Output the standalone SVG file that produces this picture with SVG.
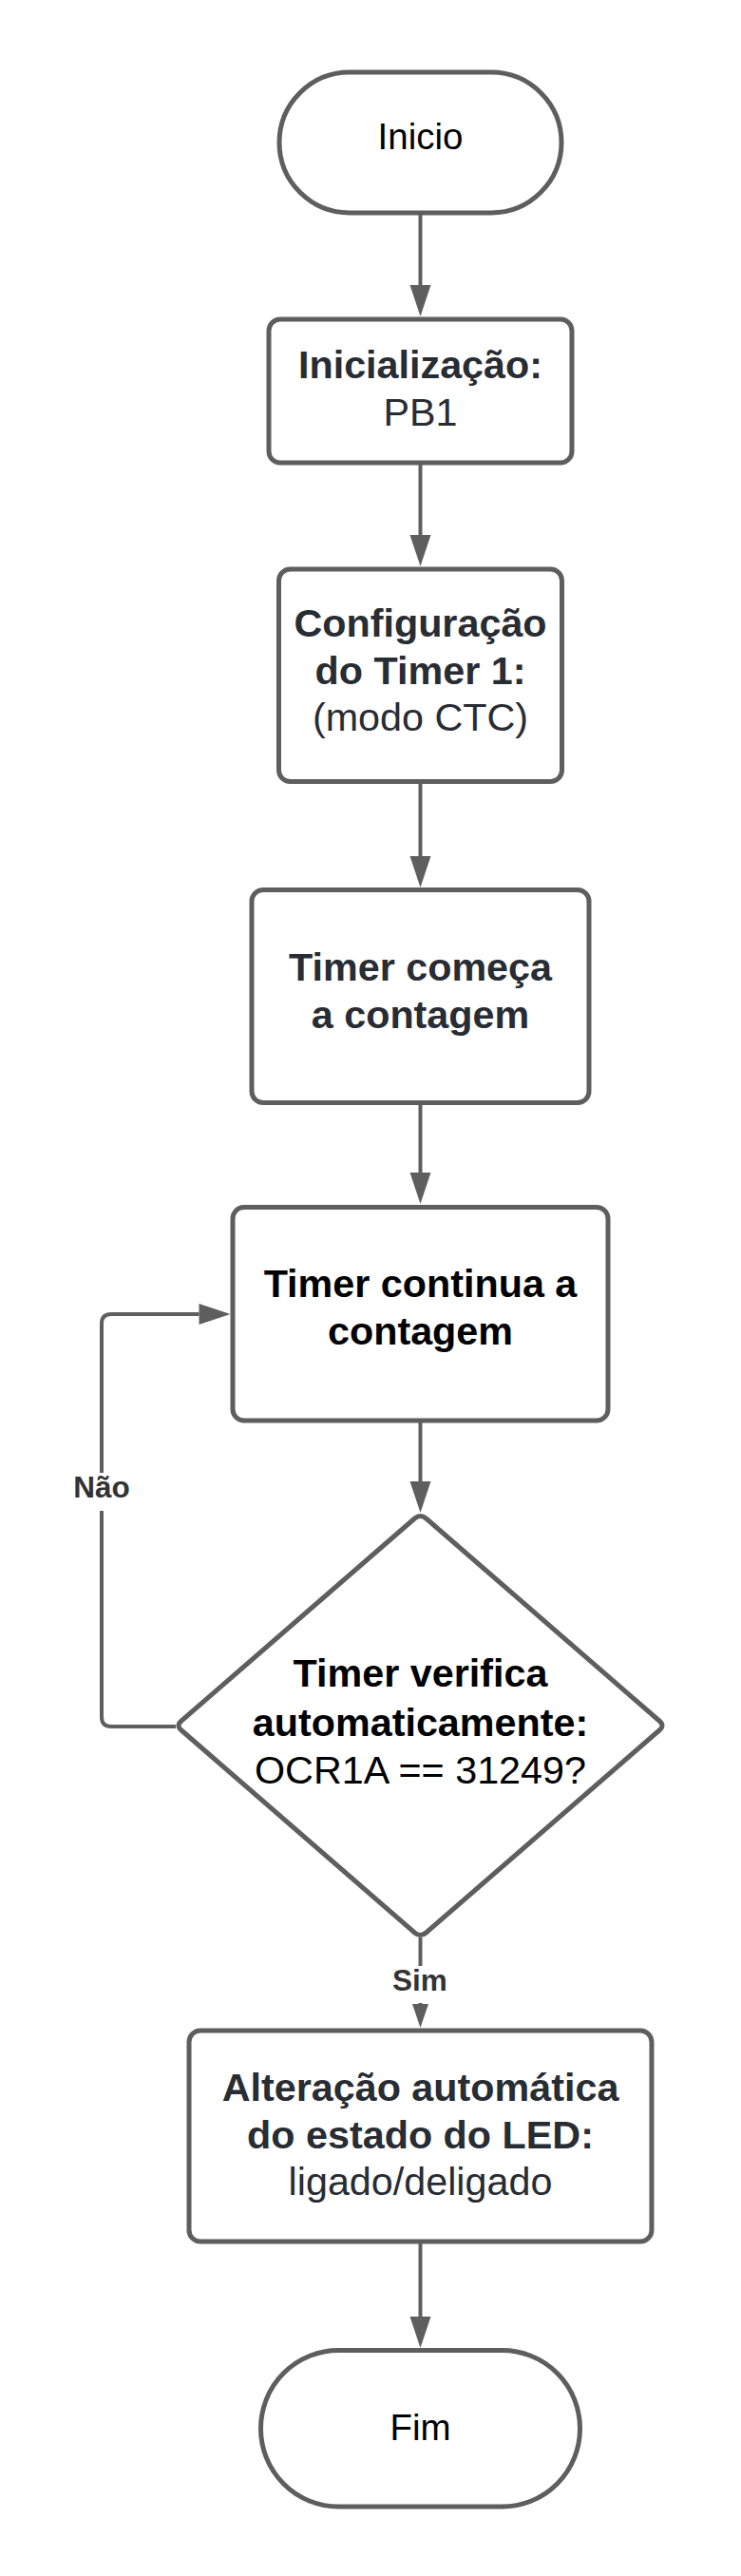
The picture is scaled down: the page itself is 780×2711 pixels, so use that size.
<svg xmlns="http://www.w3.org/2000/svg" width="780" height="2711" viewBox="0 0 780 2711">
<defs>
<style>
.shape{fill:#ffffff;stroke:#5e5e5e;stroke-width:5}
.conn{fill:none;stroke:#5e5e5e;stroke-width:4}
.t{font-family:"Liberation Sans",Arial,sans-serif;font-size:41.3px;text-anchor:middle}
.term{font-family:"Liberation Sans",Arial,sans-serif;font-size:38.5px;text-anchor:middle;fill:#000000}
.b{font-weight:bold}
.dk{fill:#282c33}
.bk{fill:#000000}
.lbl{font-family:"Liberation Sans",Arial,sans-serif;font-size:31.5px;font-weight:bold;text-anchor:middle;fill:#333333}
</style>
<marker id="arr" markerUnits="userSpaceOnUse" markerWidth="33" markerHeight="22" viewBox="0 0 33 22" refX="0" refY="11" orient="auto" overflow="visible">
<path d="M0,0 L33,11 L0,22 Z" fill="#5e5e5e"/>
</marker>
<marker id="arrS" markerUnits="userSpaceOnUse" markerWidth="25" markerHeight="17" viewBox="0 0 25 17" refX="0" refY="8.5" orient="auto" overflow="visible">
<path d="M0,0 L25,8.5 L0,17 Z" fill="#5e5e5e"/>
</marker>
</defs>
<rect width="780" height="2711" fill="#ffffff"/>

<g id="connectors">
<path class="conn" d="M442.5,224 V300" marker-end="url(#arr)"/>
<path class="conn" d="M442.5,487 V563" marker-end="url(#arr)"/>
<path class="conn" d="M442.5,822.5 V901" marker-end="url(#arr)"/>
<path class="conn" d="M442.5,1160.5 V1234" marker-end="url(#arr)"/>
<path class="conn" d="M442.5,1495 V1559" marker-end="url(#arr)"/>
<path class="conn" d="M185,1817 H117 Q107,1817 107,1807 V1393 Q107,1383 117,1383 H209.5" marker-end="url(#arr)"/>
<path class="conn" d="M442.5,2039 V2109" marker-end="url(#arrS)"/>
<path class="conn" d="M442.5,2359 V2438" marker-end="url(#arr)"/>
<g id="label-nao">
<rect x="72" y="1550" width="70" height="40" fill="#ffffff"/>
<text class="lbl" x="107" y="1576">Não</text>
</g>
<g id="label-sim">
<rect x="405" y="2069" width="75" height="39" fill="#ffffff"/>
<text class="lbl" x="442" y="2095">Sim</text>
</g>
</g>

<g id="inicio">
<rect class="shape" x="294" y="76" width="297" height="148" rx="74" ry="74"/>
<text class="term" x="442.5" y="157">Inicio</text>
</g>

<g id="inicializacao">
<rect class="shape" x="283" y="336" width="319" height="151" rx="12" ry="12"/>
<text class="t b dk" x="442.5" y="398">Inicialização:</text>
<text class="t dk" x="442.5" y="448">PB1</text>
</g>

<g id="configuracao">
<rect class="shape" x="293.5" y="599" width="298" height="223.5" rx="12" ry="12"/>
<text class="t b dk" x="442.5" y="669.6">Configuração</text>
<text class="t b dk" x="442.5" y="719.8">do Timer 1:</text>
<text class="t dk" x="442.5" y="769.2">(modo CTC)</text>
</g>

<g id="timer-comeca">
<rect class="shape" x="265" y="936.5" width="355" height="224" rx="12" ry="12"/>
<text class="t b dk" x="442.5" y="1031.6">Timer começa</text>
<text class="t b dk" x="442.5" y="1082">a contagem</text>
</g>

<g id="timer-continua">
<rect class="shape" x="245" y="1270.5" width="395" height="224.5" rx="12" ry="12"/>
<text class="t b bk" x="442.5" y="1365">Timer continua a</text>
<text class="t b bk" x="442.5" y="1414.5">contagem</text>
</g>

<g id="decisao">
<path class="shape" stroke-linejoin="round" d="M436.5,1598 Q442.5,1593 448.5,1598 L694,1811 Q700,1816 694,1821 L448.5,2034 Q442.5,2039 436.5,2034 L191,1821 Q185,1816 191,1811 Z"/>
<text class="t b bk" x="442.5" y="1775.4">Timer verifica</text>
<text class="t b bk" x="442.5" y="1826.6">automaticamente:</text>
<text class="t bk" x="442.5" y="1877">OCR1A == 31249?</text>
</g>

<g id="alteracao-led">
<rect class="shape" x="199" y="2137" width="487" height="222" rx="12" ry="12"/>
<text class="t b dk" x="442.5" y="2210.5">Alteração automática</text>
<text class="t b dk" x="442.5" y="2260.6">do estado do LED:</text>
<text class="t dk" x="442.5" y="2310">ligado/deligado</text>
</g>

<g id="fim">
<rect class="shape" x="274.5" y="2473.5" width="336" height="164.5" rx="82" ry="82"/>
<text class="term" x="442.5" y="2567.5">Fim</text>
</g>
</svg>
